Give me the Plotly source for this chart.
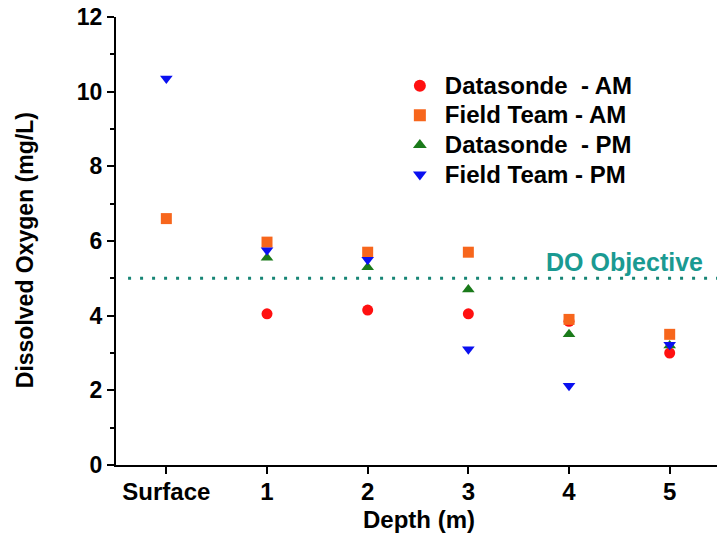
import plotly.graph_objects as go

categories = ["Surface", "1", "2", "3", "4", "5"]
x_pos = [0, 1, 2, 3, 4, 5]

ds_am = [None, 4.05, 4.15, 4.05, 3.85, 3.0]
ft_am = [6.6, 5.97, 5.7, 5.7, 3.9, 3.5]
ds_pm = [None, 5.55, 5.3, 4.7, 3.5, 3.2]
ft_pm = [10.35, 5.75, 5.5, 3.1, 2.12, 3.22]

do_objective = 5
y_ticks = [0, 2, 4, 6, 8, 10, 12]

FONT = "Liberation Sans, Arial, sans-serif"

series = [
    ("Datasonde  - AM", ds_am, "circle", "#ff1010"),
    ("Field Team - AM", ft_am, "square", "#f7661c"),
    ("Datasonde  - PM", ds_pm, "triangle-up", "#1a7a1a"),
    ("Field Team - PM", ft_pm, "triangle-down", "#0a10f0"),
]

fig = go.Figure()
for name, vals, sym, col in series:
    fig.add_trace(go.Scatter(
        x=x_pos, y=vals, mode="markers",
        name='<span style="font-size:24px"><b>%s</b></span>' % name,
        marker=dict(symbol=sym, color=col, size=11, line=dict(width=0)),
    ))

fig.add_shape(type="line", xref="x", yref="y", x0=-0.38, x1=5.5,
              y0=do_objective, y1=do_objective,
              line=dict(color="#178575", width=3, dash="3px,9px"))
fig.add_annotation(x=5.355, y=do_objective, xref="x", yref="y",
                   text="<b>DO Objective</b>", showarrow=False,
                   xanchor="right", yanchor="bottom", yshift=0,
                   font=dict(family=FONT, size=25, color="#1a9a92"))

# axis titles
fig.add_annotation(x=-0.151, y=0.48, xref="paper", yref="paper",
                   text="<b>Dissolved Oxygen (mg/L)</b>", showarrow=False,
                   textangle=-90, xanchor="center", yanchor="middle",
                   font=dict(family=FONT, size=23, color="black"))
fig.add_annotation(x=0.504, y=-0.121, xref="paper", yref="paper",
                   text="<b>Depth (m)</b>", showarrow=False,
                   xanchor="center", yanchor="middle",
                   font=dict(family=FONT, size=24, color="black"))

fig.update_layout(
    width=717, height=533,
    margin=dict(l=116, r=0, t=17, b=68),
    plot_bgcolor="white", paper_bgcolor="white",
    showlegend=True,
    legend=dict(x=0.464, y=0.891, xanchor="left", yanchor="top",
                bgcolor="rgba(0,0,0,0)", itemsizing="constant",
                font=dict(family=FONT, size=20.5, color="black"),
                tracegroupgap=0, itemwidth=40),
    font=dict(family=FONT, color="black"),
)
fig.update_xaxes(
    range=[-0.5, 5.47], tickvals=x_pos, ticktext=["<b>%s</b>" % c for c in categories],
    showline=True, linecolor="black", linewidth=2,
    ticks="outside", ticklen=7, tickwidth=2, tickcolor="black",
    tickfont=dict(family=FONT, size=24, color="black"),
    ticklabelstandoff=-3,
    showgrid=False, zeroline=False,
)
fig.update_yaxes(
    range=[0, 12], tickvals=y_ticks, ticktext=["<b>%d</b>" % v for v in y_ticks],
    showline=True, linecolor="black", linewidth=2,
    ticks="outside", ticklen=7, tickwidth=2, tickcolor="black",
    minor=dict(dtick=1, ticks="outside", ticklen=4, tickwidth=2, tickcolor="black", showgrid=False),
    tickfont=dict(family=FONT, size=23, color="black"),
    showgrid=False, zeroline=False,
)

fig.write_html("out.html")
